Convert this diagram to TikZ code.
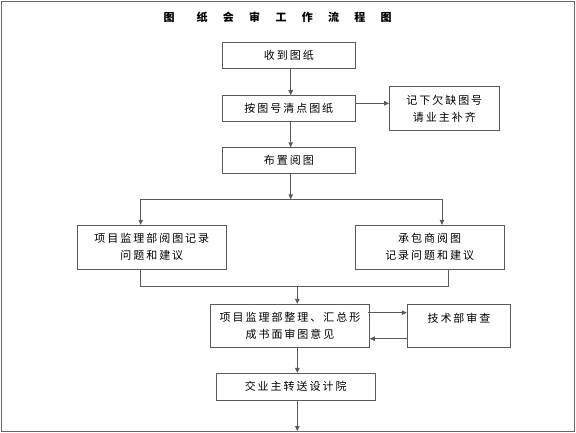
\documentclass[tikz,border=0pt]{standalone}
\usepackage{fontspec}
\usetikzlibrary{arrows.meta}
\newfontfamily\cjk[LetterSpace=18]{Noto Sans CJK SC}
\newfontfamily\cjktitle{Noto Sans CJK SC}
\definecolor{ln}{HTML}{5A5A5A}
\definecolor{fr}{HTML}{666666}
\tikzset{
  x=1pt, y=-1pt,
  box/.style={draw=ln, line width=0.9pt, rectangle, inner sep=0pt, align=center,
    font=\cjk\fontsize{11}{17}\selectfont, text=black},
  conn/.style={draw=ln, line width=0.9pt},
  arr/.style={conn, -{Triangle[length=5pt,width=4.5pt]}},
}
\begin{document}
\begin{tikzpicture}
\useasboundingbox (0,0) rectangle (576,432);
\draw[fr, line width=1pt] (1,1) rectangle (574.5,431);
\node[font=\cjktitle\bfseries\fontsize{11}{13}\selectfont] (title) at (277.7,17.3)
  {图\hspace{22pt}纸\hspace{15.3pt}会\hspace{15.3pt}审\hspace{15.3pt}工\hspace{15.3pt}作\hspace{15.3pt}流\hspace{15.3pt}程\hspace{15.3pt}图};
\node[box, minimum width=133pt, minimum height=26pt] (b1) at (288.8,55.7) {收到图纸};
\node[box, minimum width=133pt, minimum height=25.3pt] (b2) at (288.8,108.3) {按图号清点图纸};
\node[box, minimum width=109.3pt, minimum height=43.3pt] (b3) at (444.3,108.3) {记下欠缺图号\\请业主补齐};
\node[box, minimum width=133pt, minimum height=25.6pt] (b4) at (288.8,160.5) {布置阅图};
\node[box, minimum width=149pt, minimum height=44pt] (b5) at (151.8,247.3) {项目监理部阅图记录\\问题和建议};
\node[box, minimum width=149.3pt, minimum height=44pt] (b6) at (429.7,247.3) {承包商阅图\\记录问题和建议};
\node[box, minimum width=158.6pt, minimum height=43.4pt] (b7) at (290,326) {项目监理部整理、汇总形\\成书面审图意见};
\node[box, minimum width=103.4pt, minimum height=43.4pt] (b8) at (459,326) {技术部审查\\~};
\node[box, minimum width=158.7pt, minimum height=26.7pt] (b9) at (295.7,386.7) {交业主转送设计院};
\coordinate (ax) at (290.7,0);
\coordinate (ay) at (0,103.3);
\coordinate (sp) at (290.7,199.3);
\coordinate (sl) at (140.7,199.3);
\coordinate (sr) at (442,199.3);
\coordinate (jl) at (140.7,286.3);
\coordinate (jr) at (448,286.3);
\coordinate (jm) at (297.3,286.3);
\coordinate (ty) at (0,312.7);
\coordinate (by) at (0,338.7);
\coordinate (end) at (297.3,431);
\draw[arr] (b1.south -| ax) -- (b2.north -| ax);
\draw[arr] (b2.east |- ay) -- (b3.west |- ay);
\draw[arr] (b2.south -| ax) -- (b4.north -| ax);
\draw[arr] (b4.south -| ax) -- (sp);
\draw[conn] (sl) -- (sr);
\draw[arr] (sl) -- (b5.north -| sl);
\draw[arr] (sr) -- (b6.north -| sr);
\draw[conn] (b5.south -| jl) -- (jl) -- (jr) -- (b6.south -| jr);
\draw[arr] (jm) -- (b7.north -| jm);
\draw[arr] ([xshift=-2pt]b7.east |- ty) -- (b8.west |- ty);
\draw[arr] (b8.west |- by) -- (b7.east |- by);
\draw[arr] (b7.south -| jm) -- (b9.north -| jm);
\draw[arr] (b9.south -| jm) -- (end);
\end{tikzpicture}
\end{document}
